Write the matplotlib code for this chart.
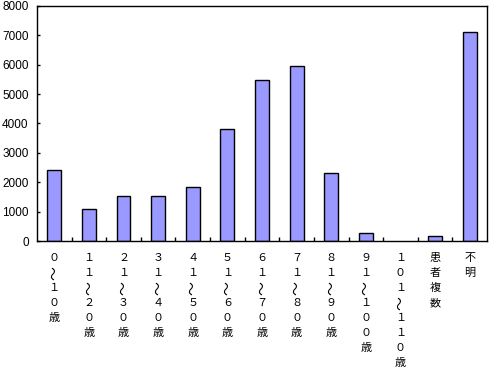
import matplotlib
matplotlib.use("Agg")
import matplotlib.pyplot as plt
import numpy as np

categories = ["０～１０歳", "１１～２０歳", "２１～３０歳", "３１～４０歳", "４１～５０歳",
              "５１～６０歳", "６１～７０歳", "７１～８０歳", "８１～９０歳", "９１～１００歳",
              "１０１～１１０歳", "患者複数", "不明"]
values = [2410, 1080, 1520, 1520, 1830, 3800, 5470, 5950, 2300, 260, 0, 160, 7100]
yticks = [0, 1000, 2000, 3000, 4000, 5000, 6000, 7000, 8000]

fig = plt.figure(figsize=(4.9, 3.7), dpi=100)
ax = fig.add_axes([37/490, 1-241/370, 450/490, 235/370])

x = np.arange(len(categories))
vals = np.array(values, dtype=float)
nz = vals > 0
ax.bar(x[nz], vals[nz], width=0.4, color="#9999FF", edgecolor="black", linewidth=1.0)

ax.set_xlim(-0.5, len(categories) - 0.5)
ax.set_ylim(0, 8000)
ax.set_yticks(yticks)
ax.set_yticklabels([str(v) for v in yticks], fontfamily="Liberation Sans", fontsize=8.5)
ax.tick_params(axis="y", direction="in", length=2, width=1, pad=6)
ax.set_xticks(np.arange(0.5, len(categories) - 0.5, 1.0))
ax.set_xticklabels([])
ax.tick_params(axis="x", direction="in", length=3, width=1)
for s in ax.spines.values():
    s.set_linewidth(1.0)

trans = ax.get_xaxis_transform()
for i, lab in enumerate(categories):
    for k, ch in enumerate(lab):
        off_px = 17 + 15 * k
        rot = 90 if ch == "～" else 0
        fs = 10 if ch == "～" else 8
        ax.annotate(ch, xy=(i, 0), xycoords=trans, xytext=(0, -off_px * 72 / 100),
                    textcoords="offset points", ha="center", va="center",
                    rotation=rot, fontsize=fs,
                    fontfamily=["Noto Sans CJK JP", "DejaVu Sans"], annotation_clip=False)

fig.savefig("out.png", dpi=100)
